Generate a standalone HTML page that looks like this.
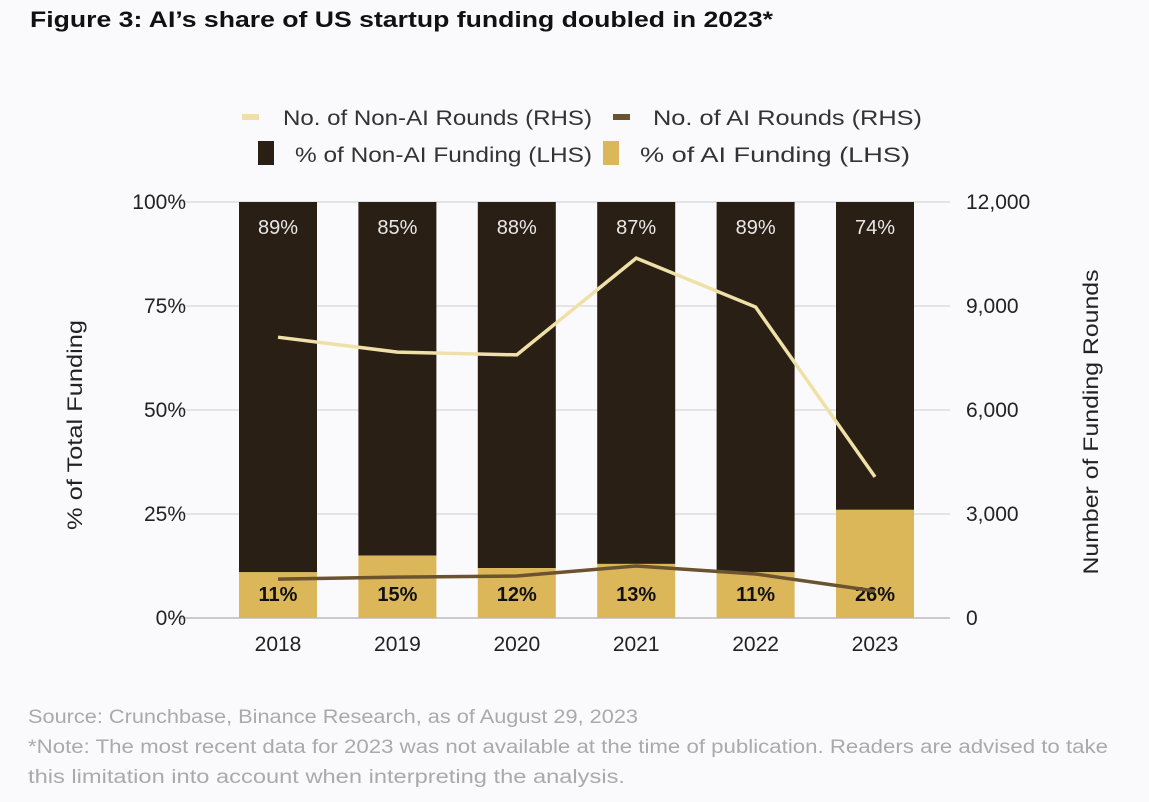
<!DOCTYPE html>
<html><head><meta charset="utf-8"><style>
body{margin:0;background:#fafafc;width:1149px;height:802px;overflow:hidden;font-family:"Liberation Sans",sans-serif}
</style></head><body>
<svg width="1149" height="802" id="chart" style="position:absolute;left:0;top:0">
<text x="30" y="27" font-size="22" font-weight="bold" fill="#111" textLength="743" lengthAdjust="spacingAndGlyphs">Figure 3: AI’s share of US startup funding doubled in 2023*</text>
<g font-size="21" fill="#333">
<rect x="242" y="114" width="17" height="6" fill="#efe0a8"/>
<text x="283" y="125" textLength="309" lengthAdjust="spacingAndGlyphs">No. of Non-AI Rounds (RHS)</text>
<rect x="613" y="114" width="17" height="6" fill="#6b5330"/>
<text x="653" y="125" textLength="269" lengthAdjust="spacingAndGlyphs">No. of AI Rounds (RHS)</text>
<rect x="258" y="141" width="16" height="24" fill="#2a1f14"/>
<text x="295" y="162" textLength="297" lengthAdjust="spacingAndGlyphs">% of Non-AI Funding (LHS)</text>
<rect x="603" y="141" width="16" height="24" fill="#dcb75a"/>
<text x="640" y="162" textLength="270" lengthAdjust="spacingAndGlyphs">% of AI Funding (LHS)</text>
</g>
<g id="plot"></g>
<text transform="translate(82,425) rotate(-90)" text-anchor="middle" font-size="21" fill="#222" textLength="210" lengthAdjust="spacingAndGlyphs">% of Total Funding</text>
<text transform="translate(1098,422) rotate(-90)" text-anchor="middle" font-size="21" fill="#222" textLength="305" lengthAdjust="spacingAndGlyphs">Number of Funding Rounds</text>
<g font-size="19" fill="#aaa">
<text x="28" y="723" textLength="610" lengthAdjust="spacingAndGlyphs">Source: Crunchbase, Binance Research, as of August 29, 2023</text>
<text x="28" y="753" textLength="1080" lengthAdjust="spacingAndGlyphs">*Note: The most recent data for 2023 was not available at the time of publication. Readers are advised to take</text>
<text x="28" y="783" textLength="597" lengthAdjust="spacingAndGlyphs">this limitation into account when interpreting the analysis.</text>
</g>
</svg>
<script>
const years=["2018","2019","2020","2021","2022","2023"];
const aiPct=[11,15,12,13,11,26];
const nonAiPct=[89,85,88,87,89,74];
const nonAiRounds=[8100,7670,7590,10380,8970,4070];
const aiRounds=[1120,1180,1210,1500,1270,780];
const leftTicks=[0,25,50,75,100];
const rightTicks=[0,3000,6000,9000,12000];
const NS="http://www.w3.org/2000/svg";
const g=document.getElementById('plot');
const top0=202,bot=618,left=180,right=950,x0=278,step=119.4,bw=78;
const yL=v=>bot-(v/100)*(bot-top0);
const yR=v=>bot-(v/12000)*(bot-top0);
const xC=i=>x0+i*step;
function mk(t,a,txt){const e=document.createElementNS(NS,t);for(const k in a)e.setAttribute(k,a[k]);if(txt!=null)e.textContent=txt;g.appendChild(e);return e;}
leftTicks.forEach((v,i)=>{
 const l=mk('line',{x1:left,x2:right,y1:yL(v),y2:yL(v),stroke:v===0?'#bbb':'#ddd','stroke-width':1.5});
 
 
 const t=mk('text',{x:186,y:yL(v)+7,'text-anchor':'end','font-size':21,fill:'#222'},v+'%');
 
 
});
rightTicks.forEach(v=>{
 const t=mk('text',{x:966,y:yR(v)+7,'font-size':21,fill:'#222'},v.toLocaleString('en-US'));
 
 
});
years.forEach((y,i)=>{
 const x=xC(i)-bw/2;
 const r1=mk('rect',{x:x,y:yL(100),width:bw,height:yL(aiPct[i])-yL(100),fill:'#2a1f14'});
 
 
 const r2=mk('rect',{x:x,y:yL(aiPct[i]),width:bw,height:bot-yL(aiPct[i]),fill:'#dcb75a'});
 
 
 const t1=mk('text',{x:xC(i),y:234,'text-anchor':'middle','font-size':20,fill:'#e8e8e8'},nonAiPct[i]+'%');
 
 
 const t2=mk('text',{x:xC(i),y:601,'text-anchor':'middle','font-size':20,'font-weight':'bold',fill:'#111'},aiPct[i]+'%');
 
 
 const t3=mk('text',{x:xC(i),y:651,'text-anchor':'middle','font-size':21,fill:'#222'},y);
 
 
});
const p1=mk('polyline',{points:nonAiRounds.map((v,i)=>xC(i)+','+yR(v)).join(' '),fill:'none',stroke:'#efe0a8','stroke-width':3.5});


const p2=mk('polyline',{points:aiRounds.map((v,i)=>xC(i)+','+yR(v)).join(' '),fill:'none',stroke:'#6b5330','stroke-width':3.5});


</script>
</body></html>
